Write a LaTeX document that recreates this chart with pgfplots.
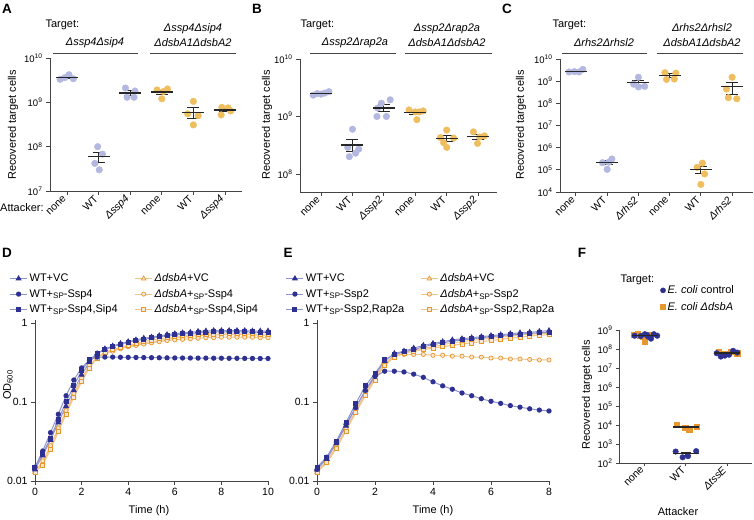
\documentclass[border=0pt]{standalone}
\usepackage{fontspec}
\setmainfont{Liberation Sans}
\usepackage{pgfplots}
\usepackage{pgfplotstable}
\pgfplotsset{compat=1.18}

\definecolor{lav}{HTML}{B3B8E0}
\definecolor{gold}{HTML}{EEBE5F}
\definecolor{navy}{HTML}{2E3192}
\definecolor{blueline}{HTML}{8E94CE}
\definecolor{orangeM}{HTML}{E8972E}
\definecolor{orline}{HTML}{F2C48A}
\definecolor{axgray}{HTML}{444444}

\newcommand{\SP}{\raisebox{-0.3ex}{\fontsize{8}{8}\selectfont SP}}

\pgfplotsset{
  every axis/.append style={scale only axis, clip=false,
    axis x line*=bottom, axis y line*=left, axis line style={-, line width=0.9pt, draw=axgray},
    tick align=outside, major tick length=4pt,
    major tick style={line width=0.9pt, draw=axgray},
    ticklabel style={font=\fontsize{9.5}{10}\selectfont}},
  mypts/.style={only marks, mark=*, mark size=3.3pt},
  mymean/.style={only marks, mark=-, mark size=11pt, black!85,
    mark options={line width=1.2pt}},
  mybl/.style={color=blueline, line width=1pt, mark size=2.1pt,
    mark options={draw=navy, fill=navy, solid}},
  myorl/.style={color=orline, line width=1pt, mark size=2.1pt,
    mark options={draw=orangeM, fill=orline!40, solid, line width=0.7pt}}
}

% growth curves, OD600 every 20 min
\pgfplotstableread{
t      wvc    wssp   wsip   dvc    dssp   dsip
0      0.014  0.015  0.015  0.013  0.013  0.013
0.333  0.021  0.024  0.022  0.017  0.018  0.016
0.667  0.033  0.041  0.035  0.027  0.028  0.025
1      0.055  0.070  0.060  0.045  0.047  0.042
1.333  0.088  0.120  0.100  0.074  0.078  0.070
1.667  0.140  0.190  0.160  0.120  0.128  0.115
2      0.220  0.270  0.250  0.190  0.200  0.180
2.333  0.320  0.340  0.340  0.280  0.290  0.270
2.667  0.410  0.370  0.410  0.370  0.360  0.360
3      0.470  0.370  0.460  0.420  0.410  0.420
3.333  0.510  0.370  0.500  0.450  0.440  0.460
3.667  0.550  0.368  0.540  0.480  0.470  0.490
4      0.580  0.367  0.570  0.510  0.500  0.520
4.333  0.610  0.366  0.600  0.530  0.520  0.550
4.667  0.640  0.365  0.620  0.560  0.540  0.580
5      0.660  0.364  0.650  0.580  0.560  0.610
5.333  0.690  0.363  0.670  0.600  0.580  0.630
5.667  0.710  0.362  0.690  0.620  0.600  0.650
6      0.730  0.361  0.710  0.640  0.610  0.670
6.333  0.750  0.360  0.730  0.660  0.620  0.690
6.667  0.760  0.360  0.740  0.680  0.630  0.700
7      0.780  0.359  0.750  0.690  0.640  0.710
7.333  0.790  0.359  0.760  0.700  0.650  0.720
7.667  0.800  0.358  0.770  0.700  0.650  0.720
8      0.800  0.358  0.770  0.710  0.660  0.730
8.333  0.800  0.357  0.770  0.710  0.660  0.730
8.667  0.800  0.357  0.770  0.710  0.660  0.730
9      0.800  0.356  0.770  0.710  0.660  0.730
9.333  0.790  0.356  0.770  0.710  0.660  0.730
9.667  0.790  0.355  0.760  0.700  0.650  0.720
10     0.790  0.355  0.760  0.700  0.650  0.720
}\Dtab

\pgfplotstableread{
t      wvc    wssp   wrap   dvc    dssp   drap
0      0.014  0.014  0.015  0.013  0.013  0.013
0.333  0.019  0.020  0.020  0.017  0.018  0.017
0.667  0.030  0.031  0.032  0.026  0.027  0.026
1      0.050  0.052  0.055  0.044  0.046  0.043
1.333  0.085  0.085  0.095  0.075  0.078  0.073
1.667  0.140  0.140  0.160  0.125  0.130  0.120
2      0.220  0.210  0.230  0.200  0.210  0.190
2.333  0.330  0.245  0.340  0.300  0.310  0.290
2.667  0.410  0.245  0.400  0.380  0.390  0.370
3      0.440  0.240  0.430  0.420  0.400  0.410
3.333  0.480  0.225  0.460  0.450  0.400  0.440
3.667  0.520  0.205  0.500  0.480  0.400  0.460
4      0.550  0.180  0.530  0.500  0.390  0.480
4.333  0.580  0.160  0.560  0.530  0.390  0.500
4.667  0.610  0.145  0.590  0.560  0.380  0.520
5      0.630  0.130  0.610  0.580  0.380  0.540
5.333  0.650  0.120  0.630  0.600  0.370  0.560
5.667  0.670  0.110  0.650  0.620  0.370  0.580
6      0.690  0.102  0.670  0.640  0.360  0.600
6.333  0.710  0.096  0.690  0.660  0.360  0.620
6.667  0.730  0.090  0.710  0.680  0.350  0.640
7      0.750  0.086  0.720  0.700  0.350  0.660
7.333  0.760  0.082  0.740  0.720  0.345  0.680
7.667  0.780  0.079  0.750  0.730  0.340  0.700
8      0.800  0.077  0.760  0.740  0.340  0.710
}\Etab

\begin{document}
\begin{tikzpicture}
\useasboundingbox (0pt,0pt) rectangle (754pt,519pt);

% ---------- A ----------
\begin{axis}[at={(50pt,328pt)}, anchor=south west, width=192pt, height=133pt,
  ymode=log, yminorticks=false,
  xmin=-0.54, xmax=5.54, ymin=1e7, ymax=1e10, ytick={1e7,1e8,1e9,1e10},
  yticklabels={10\textsuperscript{7},10\textsuperscript{8},10\textsuperscript{9},10\textsuperscript{10}},
  xtick={0,1,2,3,4,5},
  xticklabels={none,WT,\textit{Δssp4},none,WT,\textit{Δssp4}},
  xticklabel style={rotate=45, anchor=east, font=\fontsize{10.5}{11}\selectfont}]
\addplot[mypts, lav] coordinates {
  (-0.22,3.3e9) (-0.07,3.6e9) (0.06,4.2e9) (0.2,3.4e9)
  (0.97,1e8) (1.12,6.8e7) (0.88,4.2e7) (1.02,3e7)
  (1.85,2.1e9) (2.15,1.8e9) (1.9,1.3e9) (2.12,1.3e9)};
\addplot[mypts, gold] coordinates {
  (2.85,1.9e9) (3.18,2.0e9) (3.0,1.2e9) (3.05,1.75e9)
  (4.0,1.05e9) (3.82,5.5e8) (4.15,5e8) (4.0,3.1e8)
  (4.9,7.7e8) (5.1,7.5e8) (5.18,6.4e8) (4.88,5.2e8)};
\addplot[mymean, error bars/.cd, y dir=both, y explicit,
  error bar style={line width=1pt, black!85},
  error mark options={rotate=90, mark size=6pt, line width=1pt, black!85}] coordinates {
  (0,3.62e9) +- (0,0.2e9) (1,6e7) +- (0,1.5e7) (2,1.63e9) +- (0,0.2e9)
  (3,1.71e9) +- (0,0.18e9) (4,6.0e8) +- (0,1.6e8) (5,6.7e8) +- (0,0.57e8)};
\end{axis}

% ---------- B ----------
\begin{axis}[at={(300pt,327pt)}, anchor=south west, width=197pt, height=133pt,
  ymode=log, yminorticks=false,
  xmin=-0.67, xmax=5.6, ymin=4.86e7, ymax=1e10, ytick={1e8,1e9,1e10},
  yticklabels={10\textsuperscript{8},10\textsuperscript{9},10\textsuperscript{10}},
  xtick={0,1,2,3,4,5},
  xticklabels={none,WT,\textit{Δssp2},none,WT,\textit{Δssp2}},
  xticklabel style={rotate=45, anchor=east, font=\fontsize{10.5}{11}\selectfont}]
\addplot[mypts, lav] coordinates {
  (-0.25,2.35e9) (-0.12,2.5e9) (0,2.45e9) (0.12,2.55e9) (0.25,2.7e9)
  (1.0,6e8) (0.85,2.9e8) (1.2,2.7e8) (0.9,2.0e8) (1.1,2.3e8)
  (1.92,1.7e9) (2.2,1.95e9) (1.8,1.4e9) (1.78,1.0e9) (2.08,1.0e9)};
\addplot[mypts, gold] coordinates {
  (2.8,1.3e9) (3.0,1.2e9) (3.25,1.25e9) (3.05,0.88e9) (3.12,1.2e9)
  (4.0,5.8e8) (3.8,4.3e8) (4.22,4.2e8) (4.0,2.9e8) (3.9,3.5e8)
  (4.85,5.4e8) (5.2,4.6e8) (5.05,4.4e8) (4.98,3.4e8)};
\addplot[mymean, error bars/.cd, y dir=both, y explicit,
  error bar style={line width=1pt, black!85},
  error mark options={rotate=90, mark size=6pt, line width=1pt, black!85}] coordinates {
  (0,2.51e9) +- (0,0.06e9) (1,3.18e8) +- (0,0.72e8) (2,1.41e9) +- (0,0.18e9)
  (3,1.17e9) +- (0,0.074e9) (4,4.14e8) +- (0,0.49e8) (5,4.45e8) +- (0,0.41e8)};
\end{axis}

% ---------- C ----------
\begin{axis}[at={(560pt,327pt)}, anchor=south west, width=193pt, height=133pt,
  ymode=log, yminorticks=false,
  xmin=-0.51, xmax=5.67, ymin=1e4, ymax=1e10, ytick={1e4,1e5,1e6,1e7,1e8,1e9,1e10},
  yticklabels={10\textsuperscript{4},10\textsuperscript{5},10\textsuperscript{6},10\textsuperscript{7},10\textsuperscript{8},10\textsuperscript{9},10\textsuperscript{10}},
  xtick={0,1,2,3,4,5},
  xticklabels={none,WT,\textit{Δrhs2},none,WT,\textit{Δrhs2}},
  xticklabel style={rotate=45, anchor=east, font=\fontsize{10.5}{11}\selectfont}]
\addplot[mypts, lav] coordinates {
  (-0.22,2.6e9) (-0.05,2.7e9) (0.1,2.6e9) (0.22,3.4e9)
  (1.15,3.1e5) (0.85,2.1e5) (1.0,1.05e5) (1.05,2.2e5)
  (2.0,1.5e9) (1.85,7.3e8) (2.0,5.5e8) (2.2,5.8e8)};
\addplot[mypts, gold] coordinates {
  (2.85,2.4e9) (3.2,2.3e9) (2.9,1.2e9) (3.15,1.25e9)
  (4.05,2.0e5) (3.88,1.3e5) (4.12,6.5e4) (4.0,2.2e4)
  (5.0,1.5e9) (4.82,4.4e8) (4.88,1.8e8) (5.15,1.6e8)};
\addplot[mymean, error bars/.cd, y dir=both, y explicit,
  error bar style={line width=1pt, black!85},
  error mark options={rotate=90, mark size=6pt, line width=1pt, black!85}] coordinates {
  (0,2.83e9) +- (0,0.19e9) (1,2.11e5) +- (0,0.42e5) (2,8.4e8) +- (0,2.24e8)
  (3,1.79e9) +- (0,0.33e9) (4,1.04e5) +- (0,0.39e5) (5,5.7e8) +- (0,3.16e8)};
\end{axis}

% ---------- D ----------
\begin{axis}[at={(35pt,38pt)}, anchor=south west, width=233pt, height=161pt,
  ymode=log, yminorticks=false, ymin=0.01, ymax=1.09,
  ytick={0.01,0.1,1}, yticklabels={0.01,0.1,1},
  xmin=0, xmax=10, xtick={0,2,4,6,8,10}, xticklabels={0,2,4,6,8,10},
  ticklabel style={font=\fontsize{10.5}{11}\selectfont},
  legend columns=2, legend cell align=left,
  legend style={at={(-0.11,1.30)}, anchor=north west, draw=none, fill=none,
    inner sep=0pt, row sep=2pt, font=\fontsize{11}{12}\selectfont,
    /tikz/every even column/.append style={column sep=15pt}}]
\addlegendimage{mybl, mark=triangle*, mark size=2.6pt}\addlegendentry{WT+VC}
\addlegendimage{myorl, mark=triangle*, mark size=2.6pt}\addlegendentry{\textit{ΔdsbA}+VC}
\addlegendimage{mybl, mark=*}\addlegendentry{WT+\SP-Ssp4}
\addlegendimage{myorl, mark=*}\addlegendentry{\textit{ΔdsbA}+\SP-Ssp4}
\addlegendimage{mybl, mark=square*, mark size=2pt}\addlegendentry{WT+\SP-Ssp4,Sip4}
\addlegendimage{myorl, mark=square*, mark size=2pt}\addlegendentry{\textit{ΔdsbA}+\SP-Ssp4,Sip4}
\addplot[myorl, mark=triangle*, mark size=2.6pt, forget plot] table[x=t, y=dvc] {\Dtab};
\addplot[myorl, mark=*, forget plot] table[x=t, y=dssp] {\Dtab};
\addplot[myorl, mark=square*, mark size=2pt, forget plot] table[x=t, y=dsip] {\Dtab};
\addplot[mybl, mark=triangle*, mark size=2.6pt, forget plot] table[x=t, y=wvc] {\Dtab};
\addplot[mybl, mark=*, forget plot] table[x=t, y=wssp] {\Dtab};
\addplot[mybl, mark=square*, mark size=2pt, forget plot] table[x=t, y=wsip] {\Dtab};
\end{axis}

% ---------- E ----------
\begin{axis}[at={(317pt,38pt)}, anchor=south west, width=232pt, height=161pt,
  ymode=log, yminorticks=false, ymin=0.01, ymax=1.09,
  ytick={0.01,0.1,1}, yticklabels={0.01,0.1,1},
  xmin=0, xmax=8, xtick={0,2,4,6,8}, xticklabels={0,2,4,6,8},
  ticklabel style={font=\fontsize{10.5}{11}\selectfont},
  legend columns=2, legend cell align=left,
  legend style={at={(-0.135,1.30)}, anchor=north west, draw=none, fill=none,
    inner sep=0pt, row sep=2pt, font=\fontsize{11}{12}\selectfont,
    /tikz/every even column/.append style={column sep=14pt}}]
\addlegendimage{mybl, mark=triangle*, mark size=2.6pt}\addlegendentry{WT+VC}
\addlegendimage{myorl, mark=triangle*, mark size=2.6pt}\addlegendentry{\textit{ΔdsbA}+VC}
\addlegendimage{mybl, mark=*}\addlegendentry{WT+\SP-Ssp2}
\addlegendimage{myorl, mark=*}\addlegendentry{\textit{ΔdsbA}+\SP-Ssp2}
\addlegendimage{mybl, mark=square*, mark size=2pt}\addlegendentry{WT+\SP-Ssp2,Rap2a}
\addlegendimage{myorl, mark=square*, mark size=2pt}\addlegendentry{\textit{ΔdsbA}+\SP-Ssp2,Rap2a}
\addplot[myorl, mark=triangle*, mark size=2.6pt, forget plot] table[x=t, y=dvc] {\Etab};
\addplot[myorl, mark=*, forget plot] table[x=t, y=dssp] {\Etab};
\addplot[myorl, mark=square*, mark size=2pt, forget plot] table[x=t, y=drap] {\Etab};
\addplot[mybl, mark=triangle*, mark size=2.6pt, forget plot] table[x=t, y=wvc] {\Etab};
\addplot[mybl, mark=*, forget plot] table[x=t, y=wssp] {\Etab};
\addplot[mybl, mark=square*, mark size=2pt, forget plot] table[x=t, y=wrap] {\Etab};
\end{axis}

% ---------- F ----------
\begin{axis}[at={(619pt,56pt)}, anchor=south west, width=133pt, height=133pt,
  ymode=log, yminorticks=false, ymin=1e2, ymax=1e9,
  ytick={1e2,1e3,1e4,1e5,1e6,1e7,1e8,1e9},
  yticklabels={10\textsuperscript{2},10\textsuperscript{3},10\textsuperscript{4},10\textsuperscript{5},10\textsuperscript{6},10\textsuperscript{7},10\textsuperscript{8},10\textsuperscript{9}},
  major tick length=3pt,
  xmin=-0.63, xmax=2.61, xtick={0,1,2}, xticklabels={none,WT,\textit{ΔtssE}},
  xticklabel style={rotate=45, anchor=east, font=\fontsize{10.5}{11}\selectfont},
  legend cell align=left,
  legend style={at={(0.31,1.35)}, anchor=north west, draw=none, fill=none, inner sep=0pt,
    row sep=3pt, font=\fontsize{11}{12}\selectfont}]
\addlegendimage{only marks, mark=*, navy, mark size=2.6pt}\addlegendentry{\textit{E. coli} control}
\addlegendimage{only marks, mark=square*, orangeM, mark size=2.4pt}\addlegendentry{\textit{E. coli ΔdsbA}}
\addplot[only marks, mark=square*, mark size=2.6pt, orangeM, forget plot] coordinates {
  (-0.28,5.5e8) (-0.18,6.5e8) (-0.05,4.5e8) (0.0,2.6e8) (0.12,5.5e8) (-0.12,5e8)
  (0.78,1e4) (0.98,7e3) (1.08,6e3) (1.27,8.5e3)
  (1.8,7.5e7) (1.95,5.5e7) (2.1,7e7) (2.25,6e7)};
\addplot[only marks, mark=*, mark size=2.8pt, navy, forget plot] coordinates {
  (-0.25,5e8) (-0.1,4.8e8) (0.0,6e8) (0.08,4.5e8) (0.15,3.5e8) (0.22,6e8) (0.3,5e8) (0.05,5.5e8)
  (0.75,4e2) (0.92,2e2) (1.05,2.3e2) (1.25,4.2e2)
  (1.75,6e7) (1.85,4e7) (1.95,4.5e7) (2.05,5e7) (2.15,8e7) (2.25,6.5e7)};
\addplot[mymean, mark size=13pt, forget plot, error bars/.cd, y dir=both, y explicit,
  error bar style={line width=1pt, black!85},
  error mark options={rotate=90, mark size=5pt, line width=1pt, black!85}] coordinates {
  (0,5.1e8) +- (0,0.3e8) (0,4.9e8) +- (0,0.5e8)
  (1,3.1e2) +- (0,0.6e2) (1,7.9e3) +- (0,0.9e3)
  (2,5.7e7) +- (0,0.6e7) (2,6.5e7) +- (0,0.45e7)};
\end{axis}

% ---------- annotations ----------
\begin{scope}[x=1pt, y=1pt, font=\fontsize{11}{13}\selectfont]
\foreach \l/\x/\y in {A/7/510, B/257/510, C/507/510, D/7/266, E/288/266, F/582/266}
  \node[font=\bfseries\fontsize{13.5}{14}\selectfont] at (\x,\y) {\l};
% target headers
\node[anchor=west] at (42,494) {Target:};
\node at (95,476) {\textit{Δssp4Δsip4}};
\node[anchor=base] at (193,487) {\textit{Δssp4Δsip4}};
\node[anchor=base] at (193,472) {\textit{ΔdsbA1ΔdsbA2}};
\draw[line width=0.8pt, axgray] (53,466) -- (138,466) (150,466) -- (236,466);
\node[anchor=west] at (297,494) {Target:};
\node at (355,476) {\textit{Δssp2Δrap2a}};
\node[anchor=base] at (447,487) {\textit{Δssp2Δrap2a}};
\node[anchor=base] at (447,472) {\textit{ΔdsbA1ΔdsbA2}};
\draw[line width=0.8pt, axgray] (310,466) -- (396,466) (405,466) -- (492,466);
\node[anchor=west] at (549,494) {Target:};
\node at (604,476) {\textit{Δrhs2Δrhsl2}};
\node[anchor=base] at (702,487) {\textit{Δrhs2Δrhsl2}};
\node[anchor=base] at (702,472) {\textit{ΔdsbA1ΔdsbA2}};
\draw[line width=0.8pt, axgray] (562,466) -- (647,466) (657,466) -- (743,466);
\node[anchor=west, inner sep=0pt] at (0,311) {Attacker:};
% axis titles
\node[rotate=90] at (13,394) {Recovered target cells};
\node[rotate=90] at (267,394) {Recovered target cells};
\node[rotate=90] at (521,394) {Recovered target cells};
\node[rotate=90] at (8,134) {OD\textsubscript{600}};
\node at (149,8) {Time (h)};
\node at (433,8) {Time (h)};
\node[rotate=90] at (587,124) {Recovered target cells};
\node at (678,7) {Attacker};
\node[anchor=west] at (617,239) {Target:};
\end{scope}
\end{tikzpicture}
\end{document}
